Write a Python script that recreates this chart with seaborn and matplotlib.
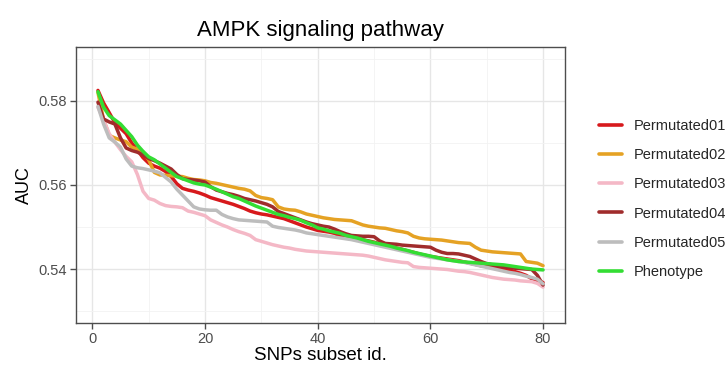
import numpy as np
import pandas as pd
import matplotlib
matplotlib.use("Agg")
import matplotlib.pyplot as plt
import seaborn as sns
from matplotlib.ticker import MultipleLocator

subset_id = list(range(1, 81))

permutated01 = [0.5825, 0.5795, 0.5772, 0.5748, 0.5735, 0.5722, 0.5700, 0.5683, 0.5665, 0.5652,
                0.5645, 0.5640, 0.5632, 0.5620, 0.5603, 0.5592, 0.5588, 0.5585, 0.5581, 0.5576,
                0.5570, 0.5566, 0.5562, 0.5558, 0.5554, 0.5549, 0.5544, 0.5538, 0.5534, 0.5531,
                0.5529, 0.5526, 0.5523, 0.5520, 0.5515, 0.5510, 0.5505, 0.5500, 0.5496, 0.5492,
                0.5490, 0.5488, 0.5485, 0.5478, 0.5476, 0.5475, 0.5472, 0.5470, 0.5467, 0.5464,
                0.5460, 0.5456, 0.5453, 0.5450, 0.5447, 0.5443, 0.5440, 0.5436, 0.5433, 0.5430,
                0.5428, 0.5426, 0.5424, 0.5422, 0.5420, 0.5417, 0.5414, 0.5411, 0.5408, 0.5406,
                0.5404, 0.5402, 0.5400, 0.5398, 0.5394, 0.5390, 0.5385, 0.5377, 0.5372, 0.5368]

permutated02 = [0.5820, 0.5755, 0.5718, 0.5712, 0.5707, 0.5703, 0.5690, 0.5685, 0.5679, 0.5660,
                0.5630, 0.5624, 0.5623, 0.5622, 0.5621, 0.5620, 0.5616, 0.5613, 0.5612, 0.5610,
                0.5606, 0.5604, 0.5601, 0.5598, 0.5595, 0.5592, 0.5590, 0.5586, 0.5575, 0.5570,
                0.5568, 0.5565, 0.5548, 0.5543, 0.5541, 0.5540, 0.5536, 0.5531, 0.5528, 0.5525,
                0.5522, 0.5520, 0.5518, 0.5517, 0.5516, 0.5515, 0.5510, 0.5505, 0.5502, 0.5500,
                0.5498, 0.5497, 0.5494, 0.5491, 0.5489, 0.5486, 0.5478, 0.5474, 0.5472, 0.5471,
                0.5470, 0.5469, 0.5467, 0.5465, 0.5463, 0.5462, 0.5461, 0.5452, 0.5445, 0.5443,
                0.5441, 0.5440, 0.5439, 0.5438, 0.5437, 0.5436, 0.5418, 0.5416, 0.5414, 0.5408]

permutated03 = [0.5785, 0.5755, 0.5722, 0.5702, 0.5684, 0.5668, 0.5655, 0.5625, 0.5585, 0.5568,
                0.5564, 0.5556, 0.5551, 0.5549, 0.5548, 0.5546, 0.5538, 0.5535, 0.5531, 0.5527,
                0.5517, 0.5511, 0.5505, 0.5500, 0.5494, 0.5489, 0.5485, 0.5480, 0.5470, 0.5466,
                0.5462, 0.5458, 0.5455, 0.5452, 0.5450, 0.5447, 0.5445, 0.5443, 0.5442, 0.5441,
                0.5440, 0.5439, 0.5438, 0.5437, 0.5436, 0.5435, 0.5434, 0.5433, 0.5431, 0.5428,
                0.5425, 0.5422, 0.5420, 0.5418, 0.5416, 0.5415, 0.5406, 0.5404, 0.5403, 0.5402,
                0.5401, 0.5400, 0.5399, 0.5397, 0.5395, 0.5394, 0.5392, 0.5389, 0.5386, 0.5383,
                0.5380, 0.5378, 0.5376, 0.5375, 0.5374, 0.5372, 0.5371, 0.5370, 0.5366, 0.5357]

permutated04 = [0.5797, 0.5757, 0.5750, 0.5745, 0.5712, 0.5688, 0.5682, 0.5678, 0.5672, 0.5663,
                0.5658, 0.5652, 0.5645, 0.5638, 0.5625, 0.5615, 0.5613, 0.5612, 0.5610, 0.5607,
                0.5596, 0.5588, 0.5584, 0.5580, 0.5577, 0.5573, 0.5568, 0.5565, 0.5562, 0.5558,
                0.5554, 0.5548, 0.5537, 0.5532, 0.5527, 0.5522, 0.5517, 0.5512, 0.5508, 0.5505,
                0.5502, 0.5500, 0.5495, 0.5489, 0.5484, 0.5480, 0.5479, 0.5478, 0.5478, 0.5477,
                0.5467, 0.5461, 0.5460, 0.5459, 0.5457, 0.5456, 0.5455, 0.5454, 0.5453, 0.5452,
                0.5445, 0.5440, 0.5437, 0.5437, 0.5436, 0.5433, 0.5430, 0.5424, 0.5418, 0.5413,
                0.5410, 0.5407, 0.5405, 0.5404, 0.5402, 0.5401, 0.5400, 0.5399, 0.5385, 0.5362]

permutated05 = [0.5787, 0.5745, 0.5712, 0.5702, 0.5690, 0.5662, 0.5645, 0.5641, 0.5639, 0.5636,
                0.5633, 0.5629, 0.5618, 0.5607, 0.5590, 0.5576, 0.5562, 0.5548, 0.5543, 0.5541,
                0.5540, 0.5540, 0.5530, 0.5524, 0.5520, 0.5517, 0.5516, 0.5515, 0.5514, 0.5513,
                0.5512, 0.5502, 0.5499, 0.5497, 0.5495, 0.5493, 0.5490, 0.5486, 0.5484, 0.5482,
                0.5480, 0.5478, 0.5476, 0.5474, 0.5472, 0.5470, 0.5467, 0.5464, 0.5461, 0.5458,
                0.5455, 0.5452, 0.5449, 0.5446, 0.5443, 0.5440, 0.5437, 0.5434, 0.5431, 0.5428,
                0.5426, 0.5424, 0.5422, 0.5420, 0.5418, 0.5416, 0.5413, 0.5410, 0.5407, 0.5404,
                0.5401, 0.5398, 0.5395, 0.5392, 0.5390, 0.5387, 0.5383, 0.5380, 0.5376, 0.5365]

phenotype = [0.5822, 0.5785, 0.5765, 0.5755, 0.5745, 0.5730, 0.5715, 0.5695, 0.5680, 0.5667,
             0.5660, 0.5650, 0.5640, 0.5630, 0.5620, 0.5615, 0.5610, 0.5605, 0.5602, 0.5600,
             0.5595, 0.5590, 0.5584, 0.5578, 0.5572, 0.5568, 0.5562, 0.5556, 0.5550, 0.5545,
             0.5540, 0.5535, 0.5530, 0.5527, 0.5523, 0.5520, 0.5516, 0.5510, 0.5505, 0.5498,
             0.5495, 0.5491, 0.5488, 0.5485, 0.5480, 0.5477, 0.5474, 0.5470, 0.5466, 0.5463,
             0.5460, 0.5457, 0.5454, 0.5450, 0.5447, 0.5444, 0.5440, 0.5437, 0.5434, 0.5431,
             0.5428, 0.5425, 0.5422, 0.5420, 0.5418, 0.5417, 0.5416, 0.5415, 0.5414, 0.5413,
             0.5412, 0.5411, 0.5410, 0.5408, 0.5406, 0.5404, 0.5402, 0.5400, 0.5399, 0.5398]

series_names = ["Permutated01", "Permutated02", "Permutated03",
                "Permutated04", "Permutated05", "Phenotype"]
series_values = [permutated01, permutated02, permutated03,
                 permutated04, permutated05, phenotype]
colors = ["#D7191C", "#E5A224", "#F4B8C6", "#A02C2C", "#BDBDBD", "#33DD33"]

x_ticks = [0, 20, 40, 60, 80]
y_ticks = [0.54, 0.56, 0.58]

df = pd.concat([pd.DataFrame({"id": subset_id, "AUC": v, "group": n})
                for n, v in zip(series_names, series_values)], ignore_index=True)

sns.set_theme(style="white")
plt.rcParams["font.family"] = ["Liberation Sans", "DejaVu Sans"]

fig = plt.figure(figsize=(7.26, 3.65), dpi=100)
ax = fig.add_axes([75.7 / 726, 1 - 323.3 / 365, (565.3 - 75.7) / 726, (323.3 - 46.7) / 365])

sns.lineplot(data=df, x="id", y="AUC", hue="group", hue_order=series_names,
             palette=dict(zip(series_names, colors)), linewidth=2.5, ax=ax, legend=True)

ax.set_xlim(-2.95, 83.95)
ax.set_ylim(0.5271, 0.5929)
ax.set_xticks(x_ticks)
ax.set_yticks(y_ticks)
ax.set_yticklabels([f"{t:.2f}" for t in y_ticks])
ax.xaxis.set_minor_locator(MultipleLocator(10))
ax.yaxis.set_minor_locator(MultipleLocator(0.01))
ax.grid(True, which="major", color="#E6E6E6", linewidth=1.0)
ax.grid(True, which="minor", color="#F2F2F2", linewidth=0.6)
ax.set_axisbelow(True)
for s in ax.spines.values():
    s.set_color("#4D4D4D")
    s.set_linewidth(1.0)
ax.tick_params(axis="both", which="major", direction="out", length=4, width=1,
               color="#4D4D4D", labelcolor="#4D4D4D", labelsize=10.5, pad=2,
               bottom=True, left=True)
ax.tick_params(axis="both", which="minor", length=0)

ax.set_xlabel("SNPs subset id.", fontsize=13.5, color="black", labelpad=1)
ax.set_ylabel("AUC", fontsize=13, color="black", labelpad=4)
ax.set_title("AMPK signaling pathway", fontsize=16, color="black", pad=8)

handles, labels = ax.get_legend_handles_labels()
ax.get_legend().remove()
for h in handles:
    h.set_linewidth(2.6)
fig.legend(handles, labels, loc="center left", bbox_to_anchor=(593 / 726, 0.455),
           frameon=False, fontsize=10.5, handlelength=1.6, handletextpad=0.8,
           labelspacing=1.05, borderaxespad=0)

fig.savefig("out.png", dpi=100)
